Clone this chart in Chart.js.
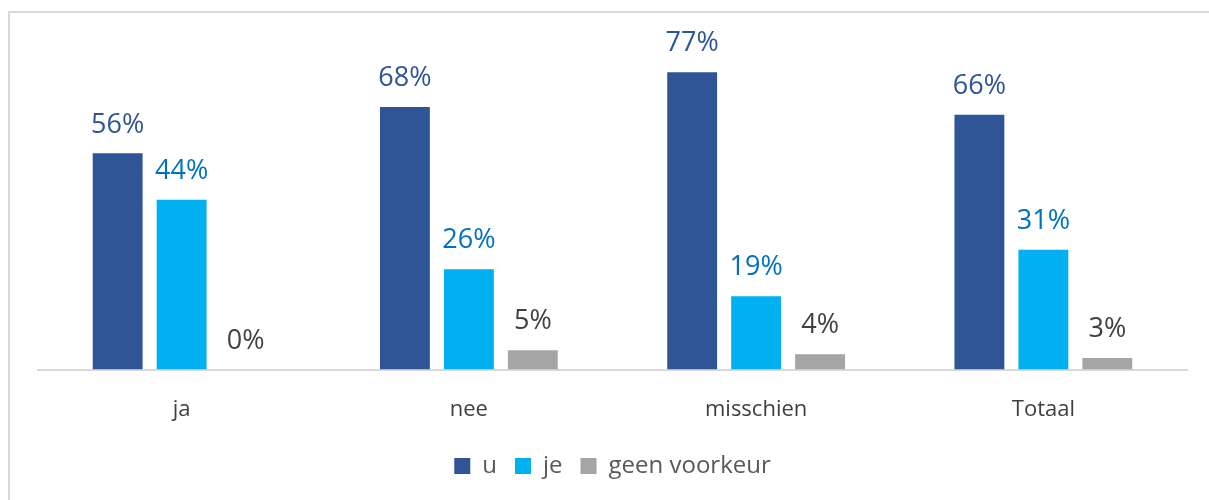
<!DOCTYPE html>
<html>
<head>
<meta charset="utf-8">
<script src="https://cdn.jsdelivr.net/npm/chart.js@4/dist/chart.umd.min.js"></script>
<style>
  html, body { margin: 0; padding: 0; background: #fff; overflow: hidden; }
  #frame { position: absolute; left: 8px; top: 11px; width: 1400px; height: 700px;
           border-left: 2px solid #d9d9d9; border-top: 2px solid #d9d9d9; }
  #wrap { position: absolute; left: 0; top: 0; width: 1209px; height: 500px; }
</style>
</head>
<body>
<div id="frame"></div>
<div id="wrap"><canvas id="chart" width="1209" height="500"></canvas></div>
<script>
const categories = ['ja', 'nee', 'misschien', 'Totaal'];
const seriesNames = ['u', 'je', 'geen voorkeur'];
const uValues = [56, 68, 77, 66];
const jeValues = [44, 26, 19, 31];
const geenValues = [0, 5, 4, 3];

const barColors = ['#2f5597', '#00b0f0', '#a5a5a5'];
const labelColors = ['#2f5597', '#0070c0', '#404040'];

// draws the value labels above every bar
const valueLabels = {
  id: 'valueLabels',
  afterDatasetsDraw(chart) {
    const c = chart.ctx;
    c.save();
    c.font = '27px "Open Sans"';
    c.textAlign = 'center';
    c.textBaseline = 'bottom';
    chart.data.datasets.forEach((ds, i) => {
      const meta = chart.getDatasetMeta(i);
      c.fillStyle = labelColors[i];
      meta.data.forEach((bar, j) => {
        c.fillText(ds.data[j] + '%', bar.x, bar.y - 15);
      });
    });
    c.restore();
  }
};

new Chart(document.getElementById('chart'), {
  type: 'bar',
  data: {
    labels: categories,
    datasets: [
      { label: seriesNames[0], data: uValues, backgroundColor: barColors[0] },
      { label: seriesNames[1], data: jeValues, backgroundColor: barColors[1] },
      { label: seriesNames[2], data: geenValues, backgroundColor: barColors[2] }
    ]
  },
  options: {
    responsive: false,
    animation: false,
    categoryPercentage: 0.668,
    barPercentage: 0.78,
    layout: { padding: { left: 38, right: 22, top: 22, bottom: 12 } },
    scales: {
      x: {
        grid: { display: false, drawTicks: false },
        border: { color: '#d9d9d9', width: 2 },
        ticks: { color: '#404040', font: { family: 'Open Sans', size: 22 }, padding: 27 },
        afterFit(scale) { scale.height -= 14; }
      },
      y: { display: false, min: 0, max: 90 }
    },
    plugins: {
      legend: {
        position: 'bottom',
        labels: {
          boxWidth: 16, boxHeight: 16, padding: 18,
          color: '#595959', font: { family: 'Open Sans', size: 24 }
        }
      },
      tooltip: { enabled: false }
    }
  },
  plugins: [valueLabels]
});
</script>
</body>
</html>
